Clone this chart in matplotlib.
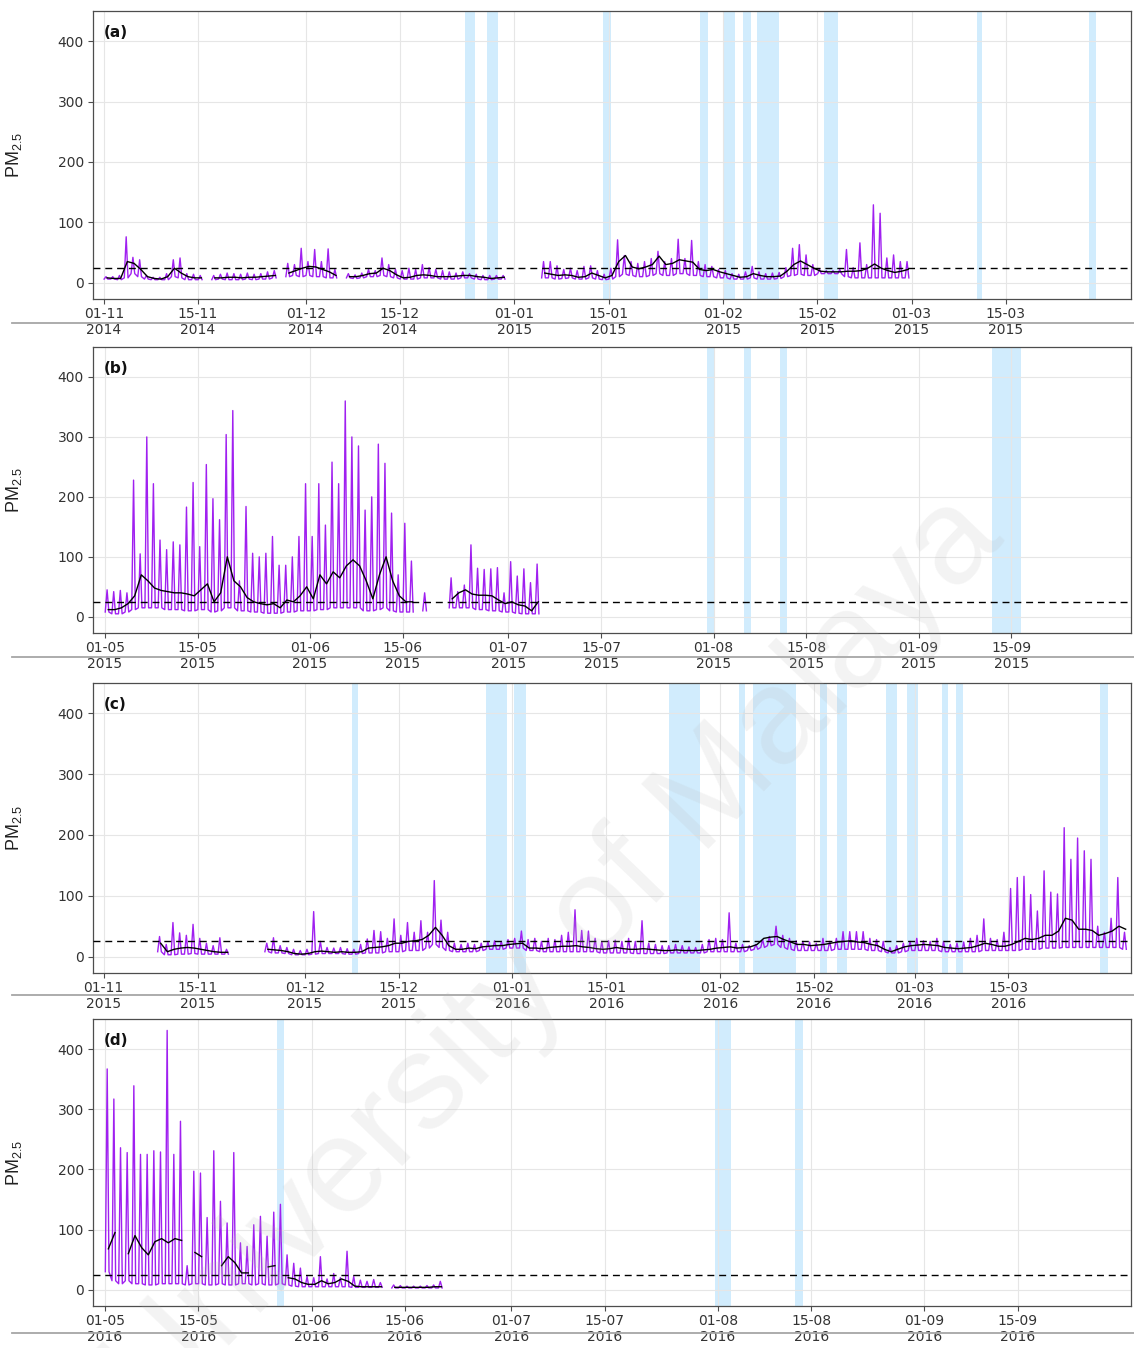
import numpy as np
import pandas as pd
import matplotlib
matplotlib.use("Agg")
import matplotlib.pyplot as plt
import matplotlib.dates as mdates
from matplotlib.lines import Line2D

N = np.nan

# ---- panel (a): Nov 2014 - Mar 2015, daily values (peak / base / 24h mean) ----
a_start = "2014-11-01"
a_data_start = "2014-11-01"
a_peak = [10, 10, 12, 76, 42, 38, 12, 9, 9, 15,
          38, 41, 15, 14, 12, N, 12, 14, 16, 15,
          14, 16, 14, 15, 18, 20, N, 32, 30, 57,
          35, 55, 35, 56, 22, N, 15, 13, 16, 22,
          20, 41, 30, 22, 20, 24, 22, 30, 25, 22,
          20, 18, 16, 18, 15, 14, 12, 12, 12, 12,
          N, N, N, N, N, 35, 35, 28, 22, 24,
          20, 27, 28, 20, 14, 24, 71, 45, 35, 32,
          35, 40, 52, 35, 40, 72, 40, 70, 35, 30,
          27, 22, 20, 15, 14, 18, 27, 18, 15, 16,
          17, 25, 57, 63, 46, 30, 22, 20, 20, 22,
          55, 25, 66, 30, 129, 115, 41, 46, 35, 35]
a_low = [6, 6, 5, 8, 15, 10, 6, 5, 5, 5,
         10, 8, 5, 5, 5, N, 5, 6, 5, 5,
         5, 6, 5, 6, 6, 8, N, 10, 12, 10,
         12, 10, 10, 8, 8, N, 8, 7, 8, 10,
         10, 12, 10, 8, 6, 6, 6, 8, 8, 8,
         6, 6, 6, 8, 8, 6, 5, 5, 6, 6,
         N, N, N, N, N, 8, 8, 6, 7, 8,
         6, 6, 8, 6, 5, 6, 10, 14, 12, 10,
         10, 12, 15, 12, 12, 15, 15, 12, 12, 10,
         10, 8, 8, 6, 6, 6, 8, 6, 6, 6,
         7, 10, 12, 14, 12, 12, 15, 15, 15, 15,
         10, 8, 8, 8, 8, 8, 8, 8, 8, 8]
a_mean = [8, 7, 7, 35, 32, 22, 10, 7, 6, 10,
          24, 16, 10, 8, 8, N, 8, 8, 9, 9,
          8, 9, 9, 10, 11, 12, N, 16, 20, 24,
          27, 26, 22, 18, 12, N, 10, 10, 12, 15,
          16, 24, 20, 13, 8, 9, 12, 13, 12, 10,
          10, 10, 11, 12, 12, 10, 9, 7, 8, 9,
          N, N, N, N, N, 16, 14, 12, 13, 12,
          9, 10, 16, 12, 8, 12, 35, 45, 26, 23,
          26, 30, 44, 30, 32, 38, 36, 34, 22, 20,
          22, 18, 15, 12, 9, 10, 15, 12, 10, 10,
          11, 19, 30, 36, 30, 24, 19, 18, 18, 18,
          19, 19, 20, 24, 31, 24, 20, 17, 19, 22]
a_bands = [(53.7, 55.2), (57.0, 58.6), (74.1, 75.3), (88.6, 89.8), (92.0, 93.8),
           (94.9, 96.1), (97.0, 100.3), (107.0, 109.0), (129.7, 130.5), (146.4, 147.4)]

# ---- panel (b): May - Sep 2015 ----
b_start = "2015-05-01"
b_data_start = "2015-05-01"
b_peak = [45, 42, 44, 40, 228, 105, 300, 222, 128, 112,
          125, 120, 183, 224, 117, 254, 197, 162, 304, 344,
          60, 184, 106, 100, 106, 134, 86, 86, 100, 134,
          222, 134, 222, 153, 258, 222, 360, 300, 285, 178,
          200, 288, 256, 173, 70, 156, 93, N, 40, N,
          N, N, 65, 42, 53, 120, 81, 79, 80, 82,
          40, 92, 68, 80, 57, 88]
b_low = [8, 5, 5, 8, 12, 15, 15, 15, 15, 12,
         12, 12, 10, 10, 12, 12, 8, 10, 15, 15,
         10, 10, 8, 8, 6, 6, 6, 8, 8, 10,
         10, 10, 12, 12, 15, 15, 15, 15, 15, 10,
         10, 12, 15, 10, 8, 8, 8, N, 10, N,
         N, N, 15, 15, 15, 15, 12, 12, 10, 10,
         8, 8, 6, 5, 5, 5]
b_mean = [12, 12, 15, 22, 35, 70, 60, 48, 44, 42,
          40, 40, 38, 35, 45, 55, 25, 40, 100, 60,
          50, 32, 25, 22, 20, 22, 15, 28, 25, 35,
          50, 30, 70, 55, 75, 65, 85, 95, 85, 60,
          30, 70, 100, 60, 35, 25, 25, N, N, N,
          N, N, 30, 40, 45, 38, 36, 36, 35, 28,
          22, 25, 20, 18, 10, 25]
b_bands = [(91.0, 92.1), (96.6, 97.7), (102.1, 103.1), (134.1, 138.4)]

# ---- panel (c): Nov 2015 - Mar 2016 ----
c_start = "2015-11-01"
c_data_start = "2015-11-09"
c_peak = [33, 20, 56, 39, 35, 53, 30, 22, 18, 31,
          12, N, N, N, N, N, 22, 31, 18, 15,
          12, 10, 12, 74, 25, 15, 14, 15, 13, 12,
          20, 29, 43, 41, 30, 62, 35, 56, 40, 59,
          40, 125, 60, 40, 22, 20, 22, 20, 22, 24,
          26, 25, 28, 30, 42, 28, 30, 25, 30, 28,
          35, 40, 77, 43, 42, 30, 25, 26, 27, 25,
          30, 25, 59, 22, 20, 18, 18, 20, 18, 16,
          15, 20, 28, 30, 28, 72, 22, 20, 18, 20,
          28, 33, 50, 35, 30, 26, 25, 24, 22, 30,
          25, 30, 41, 41, 41, 41, 30, 28, 25, 15,
          18, 22, 25, 30, 26, 25, 30, 25, 20, 22,
          24, 30, 35, 62, 30, 28, 40, 112, 130, 132,
          102, 75, 141, 106, 103, 212, 160, 195, 174, 160,
          50, 40, 63, 130, 40]
c_low = [8, 3, 3, 4, 4, 5, 4, 4, 4, 4,
         4, N, N, N, N, N, 8, 6, 6, 5,
         3, 3, 3, 4, 5, 5, 5, 5, 4, 4,
         5, 6, 6, 6, 8, 8, 8, 10, 10, 10,
         14, 20, 15, 10, 8, 8, 8, 8, 10, 12,
         12, 12, 14, 14, 14, 10, 10, 8, 8, 8,
         8, 8, 8, 8, 8, 8, 6, 6, 6, 6,
         6, 5, 5, 5, 5, 5, 6, 6, 6, 6,
         6, 6, 8, 8, 8, 8, 8, 8, 10, 12,
         15, 18, 20, 15, 12, 10, 10, 10, 10, 10,
         10, 12, 12, 12, 12, 12, 10, 10, 8, 6,
         6, 8, 10, 10, 10, 10, 10, 8, 8, 8,
         8, 8, 8, 10, 10, 10, 10, 10, 10, 12,
         12, 12, 14, 14, 14, 15, 15, 15, 15, 15,
         15, 15, 15, 15, 12]
c_mean = [22, 8, 12, 14, 15, 14, 12, 10, 8, 7,
          7, N, N, N, N, N, 12, 11, 10, 8,
          5, 4, 5, 8, 9, 8, 7, 8, 7, 7,
          8, 14, 15, 16, 18, 22, 22, 25, 26, 28,
          35, 48, 35, 18, 12, 12, 14, 13, 16, 17,
          18, 18, 20, 21, 22, 14, 14, 13, 15, 16,
          17, 17, 18, 16, 15, 13, 12, 13, 15, 13,
          12, 12, 13, 12, 11, 10, 10, 11, 10, 10,
          10, 11, 12, 14, 15, 16, 14, 15, 16, 20,
          30, 32, 33, 28, 24, 20, 20, 18, 19, 20,
          22, 24, 25, 26, 24, 23, 20, 18, 12, 8,
          12, 16, 18, 19, 20, 19, 18, 15, 14, 13,
          14, 15, 18, 22, 20, 17, 17, 20, 25, 30,
          28, 30, 35, 35, 42, 63, 60, 45, 45, 43,
          35, 38, 42, 50, 45]
c_bands = [(37.1, 37.9), (57.0, 60.2), (61.2, 63.0), (84.3, 89.0), (94.8, 95.7),
           (96.9, 103.3), (106.9, 108.0), (109.4, 110.9), (116.7, 118.4),
           (119.9, 121.5), (125.1, 126.0), (127.2, 128.2), (148.7, 149.9)]

# ---- panel (d): May - Sep 2016 ----
d_start = "2016-05-01"
d_data_start = "2016-05-01"
d_peak = [367, 317, 236, 228, 339, 225, 225, 231, 229, 431,
          225, 280, 40, 197, 194, 120, 231, 147, 111, 228,
          78, 72, 108, 122, 89, 129, 142, 58, 44, 36,
          22, 20, 55, 18, 27, 20, 64, 22, 16, 14,
          17, 12, N, 8, 7, 6, 6, 6, 7, 8,
          14]
d_low = [30, 15, 10, 15, 10, 10, 8, 8, 10, 10,
         10, 10, 8, 10, 10, 8, 8, 10, 8, 8,
         10, 10, 8, 10, 8, 8, 10, 8, 6, 5,
         5, 5, 5, 5, 5, 5, 5, 4, 4, 4,
         4, 4, N, 3, 3, 3, 3, 3, 3, 3,
         3]
d_mean = [68, 95, N, 60, 90, 70, 58, 80, 85, 78,
          85, 82, N, 62, 55, N, N, 40, 55, 45,
          28, 28, N, N, 38, 40, N, 20, 18, 12,
          9, 9, 15, 10, 12, 18, 14, 6, 5, 5,
          5, 5, N, 4, 4, 4, 4, 4, 4, 5,
          5]
d_bands = [(25.8, 26.8), (91.6, 94.0), (103.6, 104.7)]

who_limit = 25

panels = [
    ("(a)", a_start, a_data_start, a_peak, a_low, a_mean, a_bands, (-1.6, 152.6)),
    ("(b)", b_start, b_data_start, b_peak, b_low, b_mean, b_bands, (-1.8, 155.1)),
    ("(c)", c_start, c_data_start, c_peak, c_low, c_mean, c_bands, (-1.6, 153.3)),
    ("(d)", d_start, d_data_start, d_peak, d_low, d_mean, d_bands, (-1.8, 154.0)),
]

plt.rcParams["font.family"] = ["DejaVu Sans"]
plt.rcParams["mathtext.default"] = "regular"

W, H = 1134, 1348
fig = plt.figure(figsize=(W / 100, H / 100), dpi=100)

# axes boxes in pixels: (top, bottom)
boxes = [(11, 299), (347, 633), (683, 973), (1019, 1306)]
sep_lines = [323, 657, 995, 1333]
left, right = 93, 1131

purple = "#a020f0"
band_col = "#87cefa"

for (label, start, dstart, peak, low, mean, bands, xl), (top, bot), sep in zip(panels, boxes, sep_lines):
    ax = fig.add_axes([left / W, 1 - bot / H, (right - left) / W, (bot - top) / H])
    t0 = mdates.date2num(pd.Timestamp(start))
    td = mdates.date2num(pd.Timestamp(dstart))

    # shaded event days
    for s, e in bands:
        ax.axvspan(t0 + s, t0 + e, color=band_col, alpha=0.38, lw=0, zorder=0)

    # hourly-like purple trace: base -> peak -> base for each day
    tt, vv = [], []
    for i, (lo, hi) in enumerate(zip(low, peak)):
        if np.isnan(hi):
            tt.append(td + i + 0.5)
            vv.append(np.nan)
            continue
        tt += [td + i + 0.05, td + i + 0.33, td + i + 0.6]
        vv += [lo, hi, lo]
    ax.plot(tt, vv, color=purple, lw=1.0, zorder=2)

    # 24 h running mean
    tm = td + np.arange(len(mean)) + 0.5
    ax.plot(tm, mean, color="black", lw=1.0, zorder=3)

    ax.axhline(who_limit, color="black", lw=1.0, ls=(0, (5, 3.5)), zorder=4)

    ax.set_xlim(t0 + xl[0], t0 + xl[1])
    ax.set_ylim(-27, 450)
    ax.set_yticks([0, 100, 200, 300, 400])

    ticks = pd.date_range(start, periods=10, freq="SMS")
    ax.set_xticks(mdates.date2num(ticks))
    ax.set_xticklabels([d.strftime("%d-%m\n%Y") for d in ticks])

    ax.grid(True, color="#e6e6e6", lw=0.8, zorder=0.5)
    ax.set_axisbelow(True)
    for sp in ax.spines.values():
        sp.set_color("#4d4d4d")
        sp.set_linewidth(0.9)
    ax.tick_params(axis="both", length=3.5, width=0.8, color="#4d4d4d",
                   labelcolor="#333333", labelsize=10, pad=3)
    ax.tick_params(axis="x", pad=2)

    ax.set_ylabel("PM$_{2.5}$", fontsize=13, color="#222222",
                  family=["Liberation Sans", "DejaVu Sans"])
    ax.yaxis.set_label_coords(-0.066, 0.5)

    ax.text(0.0105, 0.925, label, transform=ax.transAxes, fontsize=11,
            fontweight="bold", va="center", ha="left", color="#111111")

    fig.add_artist(Line2D([12 / W, 1.0], [1 - sep / H] * 2, color="#a6a6a6",
                          lw=1.3, transform=fig.transFigure))

# repository watermark across the page
fig.text(0.49, 0.29, "University of Malaya", rotation=46, fontsize=98,
         color="#b8b8b8", alpha=0.16, ha="center", va="center",
         family=["Liberation Sans", "DejaVu Sans"], zorder=10)

fig.savefig("out.png", dpi=100)
